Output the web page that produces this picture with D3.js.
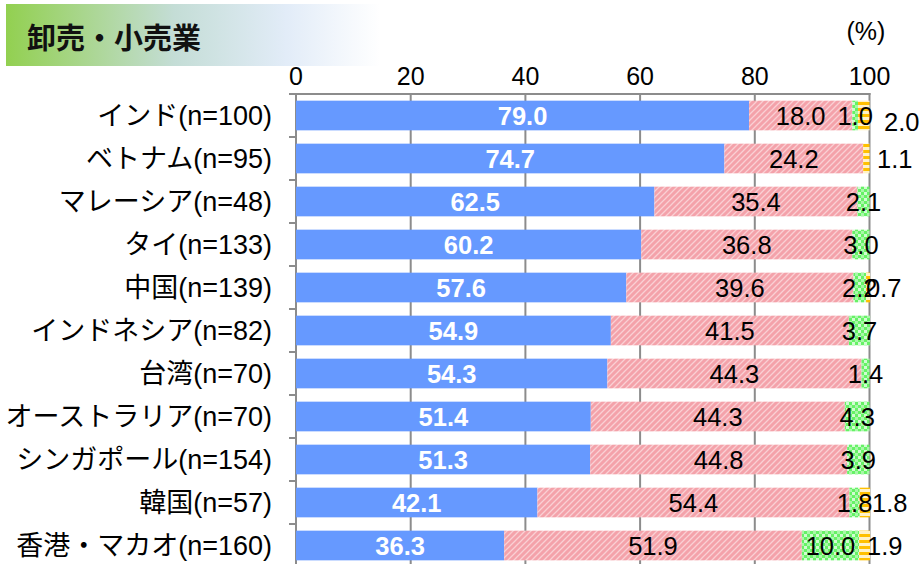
<!DOCTYPE html>
<html lang="ja">
<head>
<meta charset="UTF-8">
<title>卸売・小売業</title>
<script src="https://d3js.org/d3.v7.min.js"></script>
<style>
  body, html { margin: 0; padding: 0; overflow: hidden; background: #fff; }
  svg { display: block; }
</style>
</head>
<body>
<script>
  // data
  const categories = ["インド(n=100)", "ベトナム(n=95)", "マレーシア(n=48)", "タイ(n=133)", "中国(n=139)",
    "インドネシア(n=82)", "台湾(n=70)", "オーストラリア(n=70)", "シンガポール(n=154)", "韓国(n=57)", "香港・マカオ(n=160)"];
  const seriesA = [79.0, 74.7, 62.5, 60.2, 57.6, 54.9, 54.3, 51.4, 51.3, 42.1, 36.3];
  const seriesB = [18.0, 24.2, 35.4, 36.8, 39.6, 41.5, 44.3, 44.3, 44.8, 54.4, 51.9];
  const seriesC = [1.0, 0, 2.1, 3.0, 2.2, 3.7, 1.4, 4.3, 3.9, 1.8, 10.0];
  const seriesD = [2.0, 1.1, 0, 0, 0.7, 0, 0, 0, 0, 1.8, 1.9];
  const ticks = [0, 20, 40, 60, 80, 100];

  const width = 924, height = 564;
  const font = "'Liberation Sans', Arial, 'Noto Sans CJK JP', sans-serif";

  const svg = d3.select("body").append("svg")
    .attr("width", width).attr("height", height);

  const defs = svg.append("defs");

  // title band gradient
  const grad = defs.append("linearGradient").attr("id", "titleGrad");
  grad.append("stop").attr("offset", "0%").attr("stop-color", "#92D050");
  grad.append("stop").attr("offset", "45%").attr("stop-color", "#C4DDD6");
  grad.append("stop").attr("offset", "75%").attr("stop-color", "#E2ECF8");
  grad.append("stop").attr("offset", "100%").attr("stop-color", "#ffffff");

  // hatched red
  const pRed = defs.append("pattern").attr("id", "pRed")
    .attr("patternUnits", "userSpaceOnUse").attr("width", 6).attr("height", 6);
  pRed.append("rect").attr("width", 6).attr("height", 6).attr("fill", "#F4A2AA");
  pRed.append("path").attr("d", "M-1,1 l2,-2 M0,6 l6,-6 M5,7 l2,-2")
    .attr("stroke", "#FAD0D4").attr("stroke-width", 1.3);

  // checker green
  const pGreen = defs.append("pattern").attr("id", "pGreen")
    .attr("patternUnits", "userSpaceOnUse").attr("width", 6).attr("height", 6);
  pGreen.append("rect").attr("width", 6).attr("height", 6).attr("fill", "#66F266");
  pGreen.append("rect").attr("width", 3).attr("height", 3).attr("fill", "#D2FBD2");
  pGreen.append("rect").attr("x", 3).attr("y", 3).attr("width", 3).attr("height", 3).attr("fill", "#A8F7A8");

  // striped orange
  const pOrange = defs.append("pattern").attr("id", "pOrange")
    .attr("patternUnits", "userSpaceOnUse").attr("width", 6).attr("height", 6);
  pOrange.append("rect").attr("width", 6).attr("height", 6).attr("fill", "#FFF2C8");
  pOrange.append("rect").attr("width", 6).attr("height", 3).attr("fill", "#FFC000");

  // title
  svg.append("rect").attr("x", 6).attr("y", 4).attr("width", 374).attr("height", 62)
    .attr("fill", "url(#titleGrad)");
  svg.append("text").attr("x", 27).attr("y", 49)
    .attr("font-family", "'Noto Sans CJK JP', sans-serif").attr("font-weight", "bold")
    .attr("font-size", 29).attr("fill", "#111").text("卸売・小売業");

  svg.append("text").attr("x", 866).attr("y", 40).attr("text-anchor", "middle")
    .attr("font-family", font).attr("font-size", 25).text("(%)");

  const x = d3.scaleLinear().domain([0, 100]).range([296, 869.5]);
  const y = d3.scaleBand().domain(categories).range([94, 567]).paddingInner(0.31).paddingOuter(0.155);

  // gridlines
  svg.append("g").selectAll("line").data(ticks).join("line")
    .attr("x1", d => x(d)).attr("x2", d => x(d))
    .attr("y1", 93).attr("y2", height)
    .attr("stroke", "#8c8c8c").attr("stroke-width", 2);
  svg.append("line").attr("x1", x(0) - 1).attr("x2", x(100) + 1).attr("y1", 94).attr("y2", 94)
    .attr("stroke", "#8c8c8c").attr("stroke-width", 2);

  // left ticks at category boundaries
  const step = y.step();
  svg.append("g").selectAll("line").data(d3.range(categories.length + 1)).join("line")
    .attr("x1", x(0) - 7).attr("x2", x(0))
    .attr("y1", i => 94 + i * step).attr("y2", i => 94 + i * step)
    .attr("stroke", "#8c8c8c").attr("stroke-width", 2);

  // top tick labels
  svg.append("g").selectAll("text").data(ticks).join("text")
    .attr("x", d => x(d)).attr("y", 85).attr("text-anchor", "middle")
    .attr("font-family", font).attr("font-size", 25).attr("fill", "#000")
    .text(d => d);

  // category labels
  svg.append("g").selectAll("text").data(categories).join("text")
    .attr("x", 272).attr("y", d => y(d) + y.bandwidth() / 2 + 9)
    .attr("text-anchor", "end")
    .attr("font-family", font).attr("font-size", 27).attr("fill", "#000")
    .text(d => d);

  const table = categories.map((c, i) => ({ cat: c, a: seriesA[i], b: seriesB[i], c: seriesC[i], d: seriesD[i] }));
  const keys = ["a", "b", "c", "d"];
  const fills = { a: "#6699FF", b: "url(#pRed)", c: "url(#pGreen)", d: "url(#pOrange)" };
  const stacked = d3.stack().keys(keys)(table);

  const layers = svg.append("g").selectAll("g").data(stacked).join("g")
    .attr("fill", s => fills[s.key]);
  layers.selectAll("rect").data(s => s).join("rect")
    .attr("x", d => x(d[0]))
    .attr("width", d => Math.max(0, x(d[1]) - x(d[0])))
    .attr("y", d => y(d.data.cat))
    .attr("height", y.bandwidth());

  // nudges for the labels of the last series, which sit outside the bars
  const outsideShift = { 0: [14.5, 6], 1: [7.5, 0], 4: [-3.5, 0], 9: [2.5, 0], 10: [-2.5, 0] };

  // value labels
  stacked.forEach(s => {
    s.forEach((d, i) => {
      const v = d.data[s.key];
      if (!v) return;
      let tx = (x(d[0]) + x(d[1])) / 2, ty = y(d.data.cat) + y.bandwidth() / 2 + 9;
      let anchor = "middle";
      if (s.key === "d") {
        anchor = "start";
        const sh = outsideShift[i] || [0, 0];
        tx = x(100) + sh[0];
        ty += sh[1];
      }
      svg.append("text").attr("x", tx).attr("y", ty).attr("text-anchor", anchor)
        .attr("font-family", font).attr("font-size", 25.5)
        .attr("font-weight", s.key === "a" ? "bold" : "normal")
        .attr("fill", s.key === "a" ? "#fff" : "#000")
        .text(v.toFixed(1));
    });
  });
</script>
</body>
</html>
